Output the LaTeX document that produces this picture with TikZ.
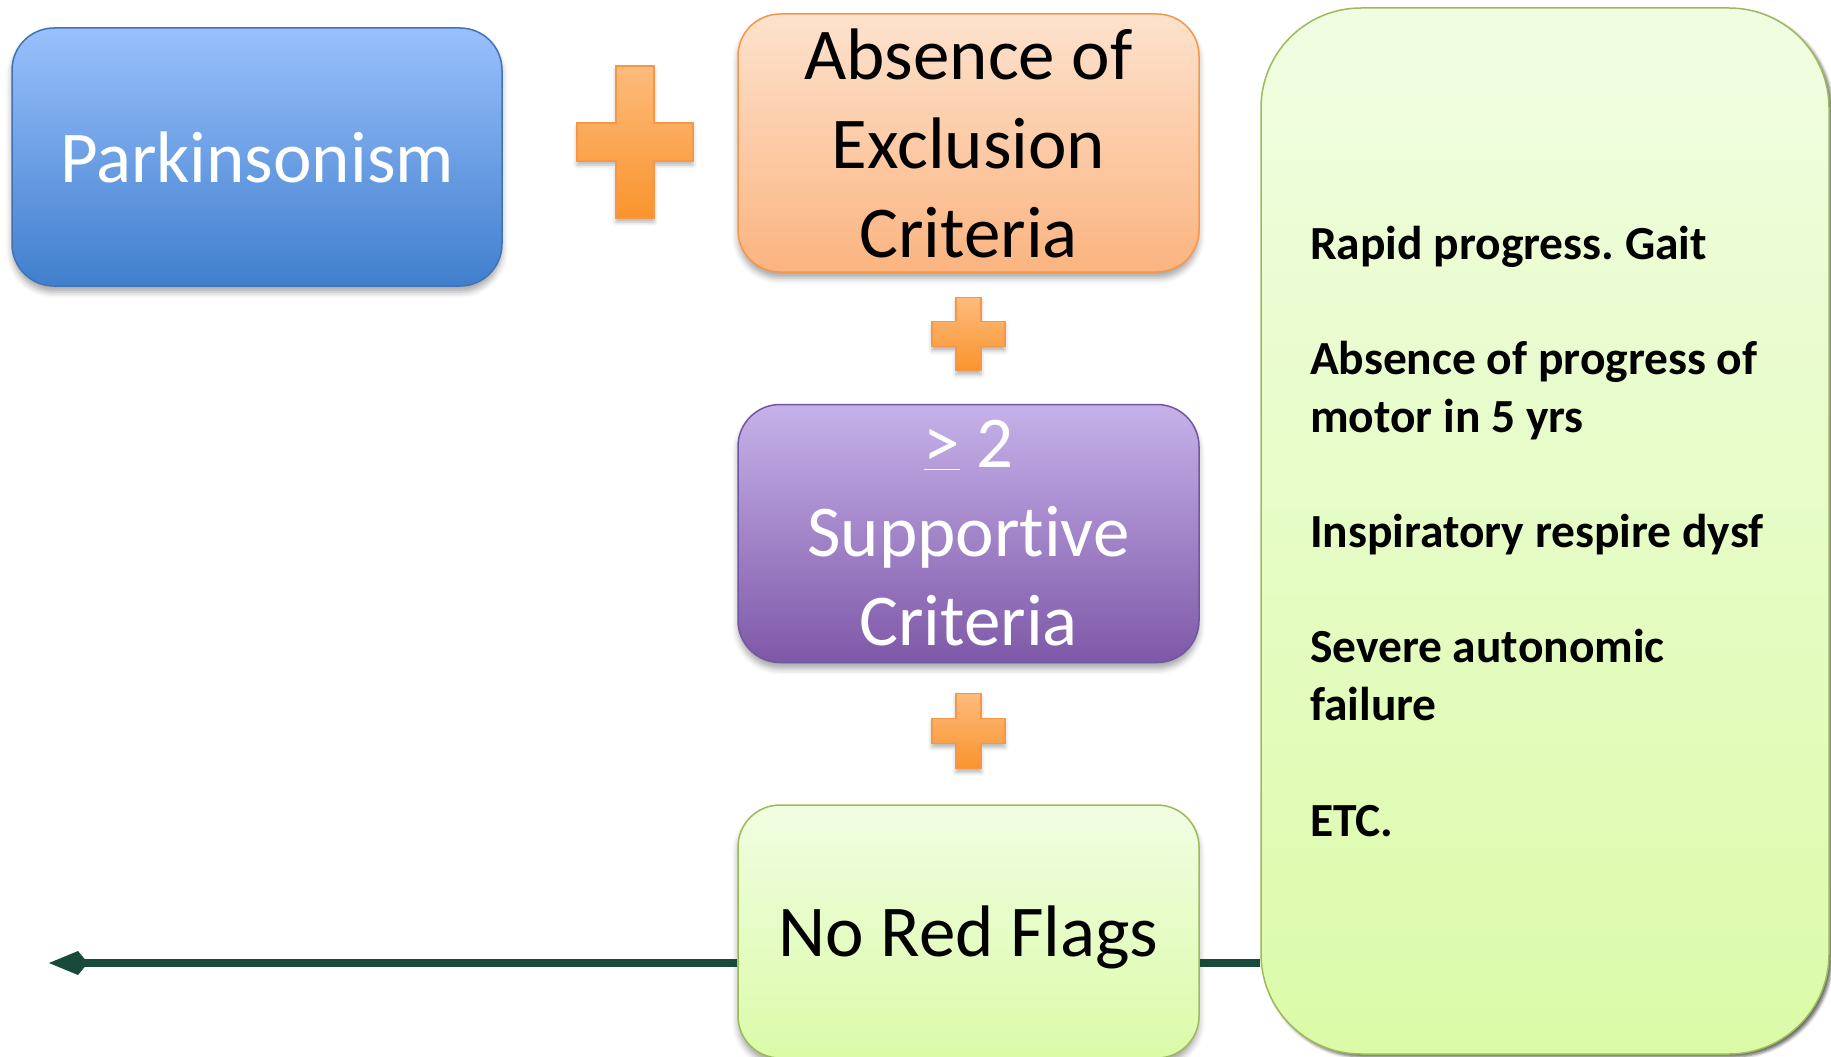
\documentclass[tikz,border=0pt]{standalone}
\usepackage{fontspec}
\setmainfont{Carlito}[Ligatures=NoCommon]
\usepackage{tikz}
\usetikzlibrary{positioning}
\usetikzlibrary{calc}
\usetikzlibrary{arrows.meta,shadows.blur}

\definecolor{parkedge}{RGB}{66,114,182}
\definecolor{parktop}{RGB}{153,192,252}
\definecolor{parkbot}{RGB}{64,127,205}
\definecolor{orangeedge}{RGB}{247,150,70}
\definecolor{orangetop}{RGB}{253,226,205}
\definecolor{orangebot}{RGB}{251,180,128}
\definecolor{purpleedge}{RGB}{112,88,160}
\definecolor{purpletop}{RGB}{198,178,234}
\definecolor{purplebot}{RGB}{126,88,168}
\definecolor{greenedge}{RGB}{155,187,89}
\definecolor{greentop}{RGB}{241,253,226}
\definecolor{greenbot}{RGB}{219,251,168}
\definecolor{plustop}{RGB}{253,187,124}
\definecolor{plusbot}{RGB}{249,148,45}
\definecolor{lineteal}{RGB}{24,74,60}

\tikzstyle{block} = [rectangle, rounded corners=42pt, minimum width=461pt, minimum height=258pt, text centered, align=center, line width=1.5pt, font=\fontsize{73}{89}\selectfont, blur shadow={shadow xshift=0pt, shadow yshift=-6pt, shadow blur radius=6pt, shadow opacity=35}]
\tikzstyle{block1} = [block, draw=parkedge, top color=parktop, bottom color=parkbot, text=white, minimum width=490pt]
\tikzstyle{block2} = [block, draw=orangeedge, top color=orangetop, bottom color=orangebot]
\tikzstyle{block3} = [block, draw=purpleedge, top color=purpletop, bottom color=purplebot, text=white]
\tikzstyle{block4} = [block, draw=greenedge, top color=greentop, bottom color=greenbot, minimum height=253pt, text depth=0pt]
\tikzstyle{panel} = [rectangle, rounded corners=100pt, draw=greenedge, line width=1.5pt, top color=greentop, bottom color=greenbot, minimum width=568pt, minimum height=1046pt, text width=470pt, inner xsep=49pt, align=flush left, font=\fontsize{47.5}{57.7}\selectfont\bfseries\frenchspacing, blur shadow={shadow xshift=3pt, shadow yshift=-3pt, shadow blur radius=3pt, shadow opacity=60}]
\tikzstyle{plusfill} = [draw=orangeedge, line width=1.2pt, top color=plustop, bottom color=plusbot, blur shadow={shadow xshift=0pt, shadow yshift=-4pt, shadow blur radius=4pt, shadow opacity=30}]
\tikzstyle{flagline} = [line width=8pt, draw=lineteal]

% #1 centre, #2 half width, #3 half height, #4 half bar
\newcommand{\plusmark}[4]{%
	\path[plusfill] ($(#1)+(-#4,-#3)$) -- ++({2*#4},0) -- ++(0,{#3-#4}) -- ++({#2-#4},0) -- ++(0,{2*#4}) -- ++({-(#2-#4)},0) -- ++(0,{#3-#4}) -- ++({-2*#4},0) -- ++(0,{-(#3-#4)}) -- ++({-(#2-#4)},0) -- ++(0,{-2*#4}) -- ++({#2-#4},0) -- cycle;}

\begin{document}
\begin{tikzpicture}[x=1pt, y=-1pt]
		
		\useasboundingbox (0,0) rectangle (1831,1057);
		
		\node (park) [block1] at (257,157) {Parkinsonism};
		
		\node (absence) [block2] at (968.5,143) {Absence of\\Exclusion\\Criteria};
		
		\node (support) [block3, below = 131pt of absence] {\underline{>} 2\\Supportive\\Criteria};
		
		\node (flags) [block4, below = 141pt of support] {No Red Flags};
		
		\node (flaglist) [panel] at (1545,531) {Rapid progress. Gait\\[\baselineskip]
			Absence of progress of\\motor in 5 yrs\\[\baselineskip]
			Inspiratory respire dysf\\[\baselineskip]
			Severe autonomic\\failure\\[\baselineskip]
			ETC.};
		
		\coordinate (tip) at (49,963);
		
		\draw [flagline] (flaglist.west |- tip) -- (flags.east |- tip);
		
		\draw [flagline, -{Kite[length=39pt, width=24pt, inset=10pt]}] (flags.west |- tip) -- (tip);
		
		\coordinate (plusA) at (635,142);
		\coordinate (plusB) at ($(absence.south)!0.5!(support.north)+(0,-4)$);
		\coordinate (plusC) at ($(support.south)!0.5!(flags.north)+(0,-3)$);
		
		\plusmark{plusA}{58}{76}{19}
		\plusmark{plusB}{36.5}{36.5}{12.5}
		\plusmark{plusC}{36.5}{37.5}{12.5}
		
\end{tikzpicture}
\end{document}
